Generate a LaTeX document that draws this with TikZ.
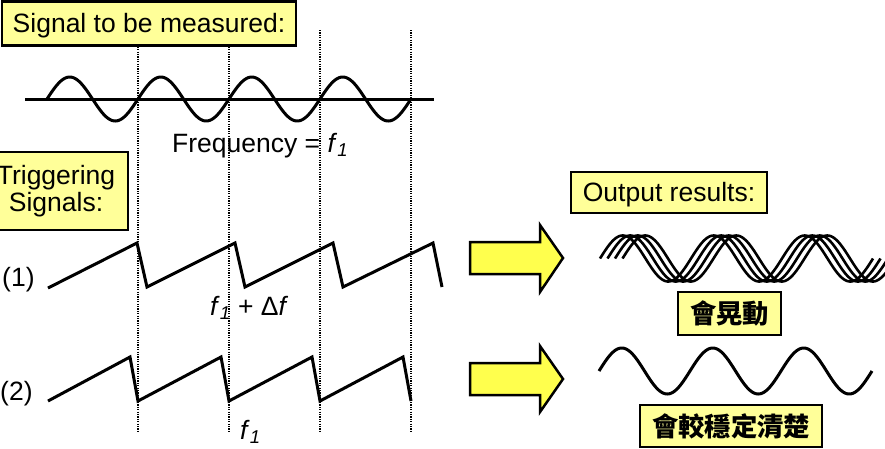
\documentclass[tikz,border=0pt]{standalone}
\usepackage{fontspec}
\setmainfont{Liberation Sans}
\newfontfamily\cjk{Noto Sans CJK TC}
\definecolor{boxyellow}{HTML}{FFFF99}
\definecolor{arrowyellow}{HTML}{FFFF4D}
\begin{document}
\begin{tikzpicture}[x=1pt,y=-1pt,
  txt/.style={font={\fontsize{26.5}{27}\selectfont}, inner sep=0pt},
  ybox/.style={draw=black, line width=2.5pt, fill=boxyellow, inner sep=0pt,
    font={\fontsize{26.5}{27}\selectfont}},
  oneline/.style={text height=19.1pt, text depth=2.1pt},
  cjkbox/.style={ybox, font={\cjk\bfseries\fontsize{26.3}{28}\selectfont}},
  wave/.style={line width=3pt, line join=miter},
  strand/.style={line width=2.6pt},
  guide/.style={line width=1.4pt, dash pattern=on 1.2pt off 1.2pt},
  blockarrow/.style={draw=black, line width=2.5pt, fill=arrowyellow, line join=miter}]
\clip (0,0) rectangle (885,448);
% vertical dotted guides
\foreach \gx in {138,229,320,411}
  \draw[guide] (\gx,30) -- (\gx,432);
% signal to be measured
\draw[wave] (25,99) -- (434,99);
\draw[wave] plot[domain=47:411, samples=240, smooth] (\x,{99-22*sin((\x-47)/91*360)});
\node[ybox, oneline, minimum width=294pt, minimum height=44pt] (signalbox) at (149,23.5) {Signal to be measured:};
\node[txt, anchor=base west] (freq) at (172,152) {Frequency = \textit{f}\textsubscript{\textit{1}}};
% triggering signals
\node[ybox, align=center, minimum width=144pt, minimum height=78pt] (trigbox) at (56,191) {Triggering\\Signals:};
\node[txt, anchor=base west] (lab1) at (2,286) {(1)};
\draw[wave] (48,288) -- (137,243) -- (147,287) -- (235,243) -- (245,287) -- (333,243) -- (343,287) -- (433,243) -- (442,287);
\node[txt, anchor=base west] (fdelta) at (210,315) {\textit{f}\textsubscript{\textit{1}} + Δ\textit{f}};
\node[txt, anchor=base west] (lab2) at (0,400) {(2)};
\draw[wave] (48,401) -- (130,357) -- (138,401) -- (221,357) -- (229,401) -- (312,357) -- (320,401) -- (403,357) -- (411,401);
\node[txt, anchor=base west] (fone) at (240,439) {\textit{f}\textsubscript{\textit{1}}};
% block arrows
\draw[blockarrow] (470,242) -- (540,242) -- (540,225) -- (563,258) -- (540,292) -- (540,274) -- (470,274) -- cycle;
\draw[blockarrow] (470,363) -- (540,363) -- (540,346) -- (563,379) -- (540,412) -- (540,395) -- (470,395) -- cycle;
% outputs
\node[ybox, oneline, minimum width=196pt, minimum height=41pt] (outbox) at (669,192.5) {Output results:};
\foreach \k in {0,1,2,3}
  \draw[strand] plot[domain={600+7.5*\k}:{873+7.5*\k}, samples=200, smooth]
    (\x,{258.5-23*sin((\x-600-7.5*\k)/91*360)});
\node[cjkbox, minimum width=103pt, minimum height=43pt] (shakebox) at (729.5,313.5) {會晃動};
\draw[wave] plot[domain=599:872, samples=200, smooth] (\x,{371-23*sin((\x-599)/91*360)});
\node[cjkbox, minimum width=182pt, minimum height=42pt] (stablebox) at (731,426) {會較穩定清楚};
\end{tikzpicture}
\end{document}
